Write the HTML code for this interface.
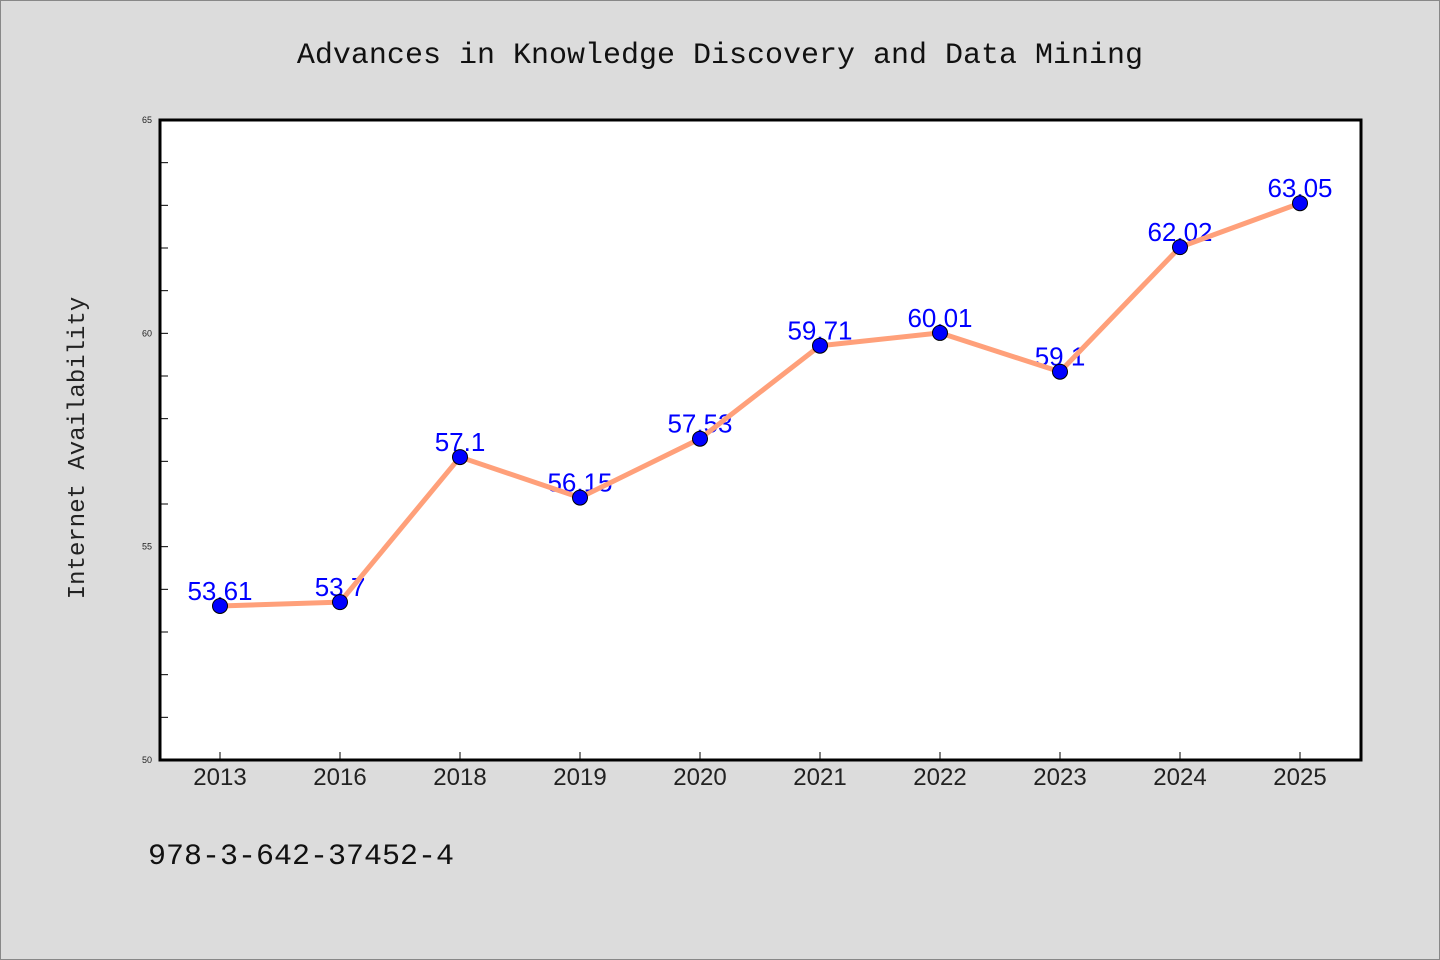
<!DOCTYPE html>
<html><head><meta charset="utf-8"><style>
html,body{margin:0;padding:0;background:#dcdcdc;}
svg{display:block;}
</style></head><body>
<svg width="1440" height="960" xmlns="http://www.w3.org/2000/svg">
<rect x="0.5" y="0.5" width="1439" height="959" fill="#dcdcdc" stroke="#888"/>
<text x="720" y="63" text-anchor="middle" font-family="'WenQuanYi Zen Hei','Liberation Mono',monospace" font-size="30" fill="#111">Advances in Knowledge Discovery and Data Mining</text>
<rect x="160" y="120" width="1201" height="640" fill="#fff"/>
<g id="ticks"></g>
<g id="labels"></g>
<path id="line" fill="none" stroke="#ffa07a" stroke-width="5" stroke-linejoin="round"/>
<g id="dots"></g>
<rect x="160" y="120" width="1201" height="640" fill="none" stroke="#000" stroke-width="3"/>
<text transform="translate(84,448) rotate(-90)" text-anchor="middle" font-family="'WenQuanYi Zen Hei','Liberation Mono',monospace" font-size="24" fill="#222">Internet Availability</text>
<text x="148" y="864" font-family="'WenQuanYi Zen Hei','Liberation Mono',monospace" font-size="30" fill="#111">978-3-642-37452-4</text>
</svg>
<script>
const categories=["2013","2016","2018","2019","2020","2021","2022","2023","2024","2025"];
const values=[53.61,53.7,57.1,56.15,57.53,59.71,60.01,59.1,62.02,63.05];
const yTickLabels=[50,55,60,65];
const NS="http://www.w3.org/2000/svg";
const x=i=>220+i*120;
const y=v=>760-(v-50)*(640/15);
function mk(tag,attrs,parent){const e=document.createElementNS(NS,tag);for(const k in attrs)e.setAttribute(k,attrs[k]);parent.appendChild(e);return e;}
const ticks=document.getElementById('ticks'),labels=document.getElementById('labels'),dots=document.getElementById('dots');
for(let v=51;v<65;v++){const t=mk('line',{x1:160,x2:168,y1:y(v),y2:y(v),stroke:'#000','stroke-width':1},ticks);

}
yTickLabels.forEach(v=>{const t=mk('text',{x:152,y:y(v)+3,'text-anchor':'end','font-family':'Liberation Sans,sans-serif','font-size':9,fill:'#222'},ticks);t.textContent=v;

});
categories.forEach((c,i)=>{const t=mk('line',{x1:x(i),x2:x(i),y1:752,y2:760,stroke:'#000','stroke-width':1},ticks);


const l=mk('text',{x:x(i),y:785,'text-anchor':'middle','font-family':'Liberation Sans,sans-serif','font-size':24,fill:'#222'},ticks);l.textContent=c;

});
let d='';
values.forEach((v,i)=>{d+=(i?'L':'M')+x(i)+','+y(v);
const l=mk('text',{x:x(i),y:y(v)-6,'text-anchor':'middle','font-family':'Liberation Sans,sans-serif','font-size':26,fill:'#0000ff'},labels);l.textContent=v;


const c=mk('circle',{cx:x(i),cy:y(v),r:7.5,fill:'#0000ff',stroke:'#000','stroke-width':1},dots);

});
document.getElementById('line').setAttribute('d',d);
</script>
</body></html>
